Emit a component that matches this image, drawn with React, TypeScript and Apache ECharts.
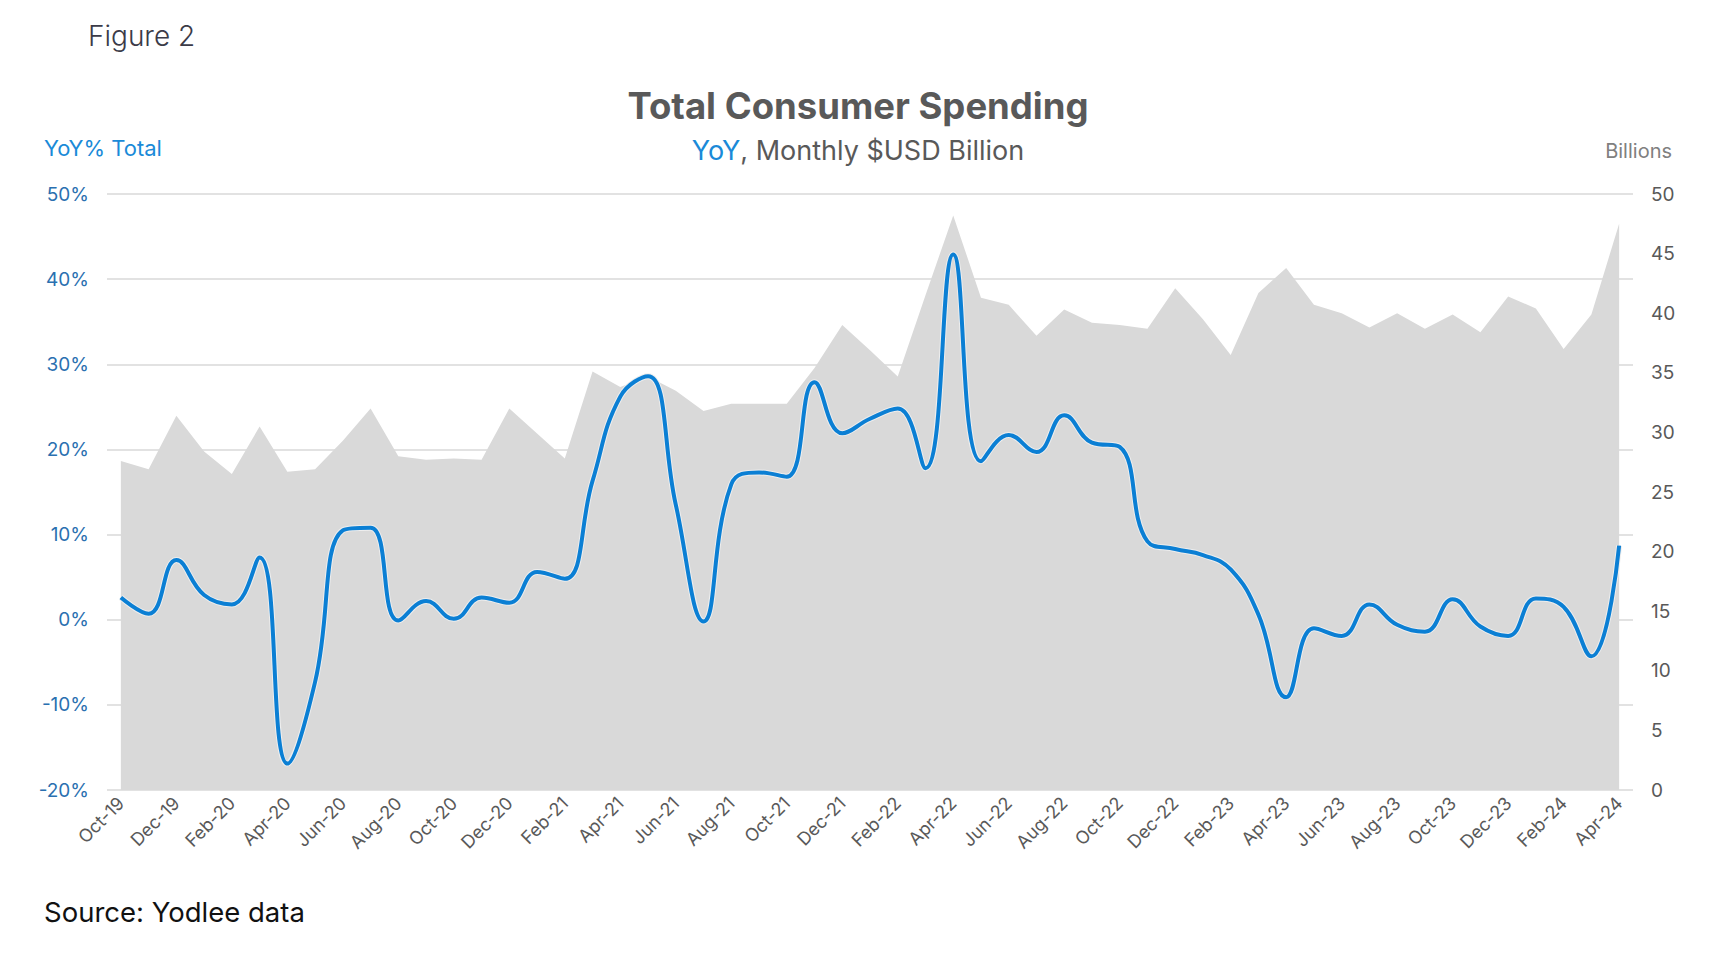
import React, { useEffect, useRef } from "react";
import * as echarts from "echarts";

const categories: string[] = [
  "Oct-19", "Nov-19", "Dec-19", "Jan-20", "Feb-20", "Mar-20", "Apr-20", "May-20", "Jun-20", "Jul-20",
  "Aug-20", "Sep-20", "Oct-20", "Nov-20", "Dec-20", "Jan-21", "Feb-21", "Mar-21", "Apr-21", "May-21",
  "Jun-21", "Jul-21", "Aug-21", "Sep-21", "Oct-21", "Nov-21", "Dec-21", "Jan-22", "Feb-22", "Mar-22",
  "Apr-22", "May-22", "Jun-22", "Jul-22", "Aug-22", "Sep-22", "Oct-22", "Nov-22", "Dec-22", "Jan-23",
  "Feb-23", "Mar-23", "Apr-23", "May-23", "Jun-23", "Jul-23", "Aug-23", "Sep-23", "Oct-23", "Nov-23",
  "Dec-23", "Jan-24", "Feb-24", "Mar-24", "Apr-24",
];

// Monthly spending, $USD billions (right axis)
const spendingBillions: number[] = [
  27.6, 26.9, 31.4, 28.4, 26.5, 30.5, 26.7, 26.9, 29.3, 32.0,
  28.0, 27.7, 27.8, 27.7, 32.0, 29.9, 27.8, 35.1, 33.8, 34.7,
  33.5, 31.8, 32.4, 32.4, 32.4, 35.4, 39.0, 36.9, 34.7, 41.5,
  48.2, 41.3, 40.7, 38.1, 40.3, 39.2, 39.0, 38.7, 42.1, 39.5,
  36.5, 41.7, 43.8, 40.7, 40.0, 38.8, 40.0, 38.7, 39.9, 38.4,
  41.4, 40.4, 37.0, 39.9, 47.5,
];

// YoY % change (left axis)
const yoyPercent: number[] = [
  2.6, 0.7, 7.0, 2.9, 1.8, 7.3, -16.9, -7.3, 10.5, 10.8,
  -0.1, 2.2, 0.1, 2.6, 2.0, 5.6, 4.8, 16.3, 26.2, 28.6,
  13.5, -0.2, 15.9, 17.3, 16.8, 27.9, 21.9, 23.6, 24.8, 17.8,
  42.9, 18.6, 21.7, 19.7, 24.0, 20.8, 20.3, 9.2, 8.3, 7.6,
  5.9, 0.6, -9.1, -1.0, -1.9, 1.8, -0.6, -1.4, 2.4, -0.8,
  -1.9, 2.5, 1.5, -4.3, 8.7,
];

const FONT = "Inter, Lato, 'Noto Sans', sans-serif";

export default function App() {
  const ref = useRef<HTMLDivElement>(null);

  useEffect(() => {
    if (!ref.current) return;
    const chart = echarts.init(ref.current, undefined, { renderer: "svg" });
    chart.setOption({
      animation: false,
      backgroundColor: "#ffffff",
      textStyle: { fontFamily: FONT },
      grid: { left: 107, right: 85, top: 194, bottom: 174, containLabel: false },
      graphic: [
        {
          type: "text",
          x: 88,
          y: 36,
          style: {
            text: "Figure 2",
            font: `300 28px ${FONT}`,
            fill: "#3b3b48",
            textVerticalAlign: "middle",
          },
        },
        {
          type: "text",
          x: 858,
          y: 106,
          style: {
            text: "Total Consumer Spending",
            font: `bold 36.5px ${FONT}`,
            fill: "#595959",
            textAlign: "center",
            textVerticalAlign: "middle",
          },
        },
        {
          type: "text",
          x: 858,
          y: 150,
          style: {
            text: "{b|YoY}{g|, Monthly $USD Billion}",
            textAlign: "center",
            textVerticalAlign: "middle",
            rich: {
              b: { font: `27px ${FONT}`, fill: "#1a8ad8" },
              g: { font: `27px ${FONT}`, fill: "#595959" },
            },
          },
        },
        {
          type: "text",
          x: 44,
          y: 148,
          style: {
            text: "YoY% Total",
            font: `22px ${FONT}`,
            fill: "#1a8ad8",
            textVerticalAlign: "middle",
          },
        },
        {
          type: "text",
          x: 1672,
          y: 151,
          style: {
            text: "Billions",
            font: `20px ${FONT}`,
            fill: "#808080",
            textAlign: "right",
            textVerticalAlign: "middle",
          },
        },
        {
          type: "text",
          x: 44,
          y: 912,
          style: {
            text: "Source: Yodlee data",
            font: `27.5px ${FONT}`,
            fill: "#111111",
            textVerticalAlign: "middle",
          },
        },
      ],
      xAxis: {
        type: "category",
        data: categories,
        boundaryGap: true,
        axisLine: { show: false },
        axisTick: { show: false },
        axisLabel: {
          interval: 1,
          rotate: 45,
          fontSize: 18,
          color: "#595959",
          fontFamily: FONT,
          margin: 10,
        },
      },
      yAxis: [
        {
          type: "value",
          min: -20,
          max: 50,
          interval: 10,
          axisLine: { show: false },
          axisTick: { show: false },
          splitLine: { show: true, lineStyle: { color: "#d9d9d9", width: 1.5 } },
          axisLabel: {
            formatter: "{value}%",
            fontSize: 19,
            color: "#2a70b0",
            fontFamily: FONT,
            margin: 18,
          },
        },
        {
          type: "value",
          min: 0,
          max: 50,
          interval: 5,
          position: "right",
          axisLine: { show: false },
          axisTick: { show: false },
          splitLine: { show: false },
          axisLabel: {
            fontSize: 19,
            color: "#595959",
            fontFamily: FONT,
            margin: 18,
          },
        },
      ],
      series: [
        {
          name: "Total Spending",
          type: "line",
          yAxisIndex: 1,
          data: spendingBillions,
          symbol: "none",
          lineStyle: { width: 0, color: "#d9d9d9" },
          areaStyle: { color: "#d9d9d9", opacity: 1 },
          z: 1,
        },
        {
          name: "YoY halo",
          type: "line",
          yAxisIndex: 0,
          data: yoyPercent,
          symbol: "none",
          smooth: 0.45,
          lineStyle: { width: 6, color: "#eeeeee" },
          z: 2,
          silent: true,
        },
        {
          name: "YoY% Total",
          type: "line",
          yAxisIndex: 0,
          data: yoyPercent,
          symbol: "none",
          smooth: 0.45,
          lineStyle: { width: 4, color: "#0b7fd4" },
          z: 3,
        },
      ],
    });
    return () => chart.dispose();
  }, []);

  return (
    <div
      ref={ref}
      style={{ position: "absolute", left: 0, top: 0, width: 1718, height: 964 }}
    />
  );
}
